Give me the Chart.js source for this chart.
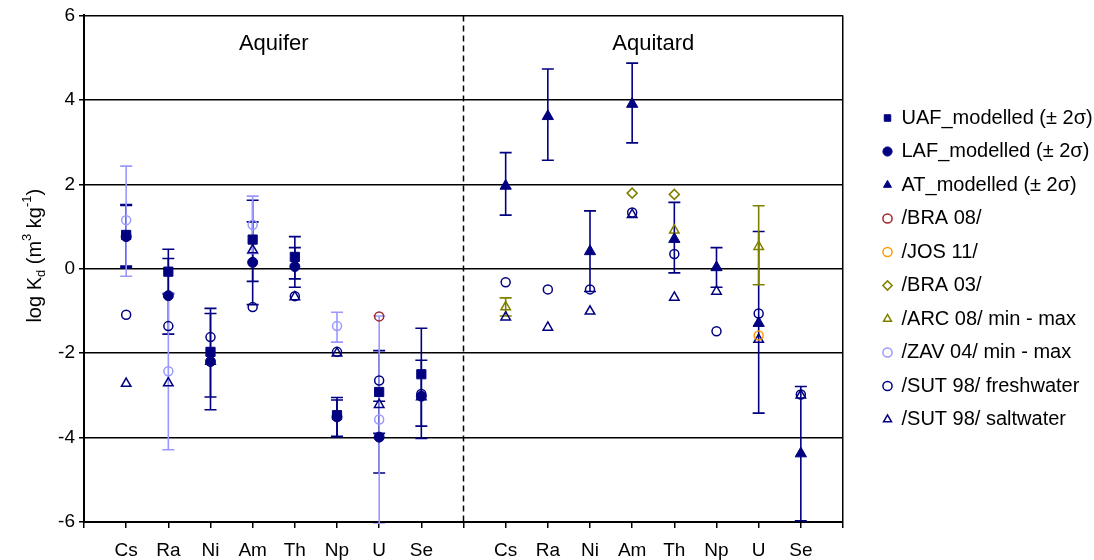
<!DOCTYPE html>
<html>
<head>
<meta charset="utf-8">
<title>log Kd</title>
<script src="https://cdn.jsdelivr.net/npm/chart.js@4.4.1/dist/chart.umd.min.js"></script>
<style>
    html, body { margin: 0; padding: 0; background: #fff; }
    #wrap { width: 1094px; height: 560px; }
</style>
</head>
<body>
<div id="wrap"><canvas id="kdChart"></canvas></div>
<script>
// Elements, shown once for the aquifer and once for the aquitard
const elements = ['Cs', 'Ra', 'Ni', 'Am', 'Th', 'Np', 'U', 'Se'];
const groups = ['Aquifer', 'Aquitard'];

// Modelled log Kd with the ±2σ limits
const uafValues = [0.80, -0.07, -1.97, 0.69, 0.28, -3.47, -2.92, -2.50];
const uafLow    = [0.06, -0.60, -3.04, -0.30, -0.24, -3.97, -3.90, -3.73];
const uafHigh   = [1.52, 0.46, -0.94, 1.62, 0.76, -3.05, -1.94, -1.41];

const lafValues = [0.76, -0.64, -2.20, 0.15, 0.05, -3.51, -3.99, -3.02];
const lafLow    = [0.02, -1.55, -3.34, -0.85, -0.44, -3.98, -4.84, -4.02];
const lafHigh   = [1.50, 0.24, -1.06, 1.11, 0.50, -3.11, -3.14, -2.17];

const atValues  = [1.96, 3.61, 0.41, 3.90, 0.70, 0.03, -1.29, -4.38];
const atLow     = [1.27, 2.57, -0.54, 2.98, -0.10, -0.44, -3.42, -5.97];
const atHigh    = [2.75, 4.73, 1.37, 4.87, 1.57, 0.50, 0.88, -2.79];

// Literature values
const bra08Aquifer  = [null, null, null, null, null, null, -1.13, null];
const jos11Aquitard = [null, null, null, null, null, null, -1.58, null];
const bra03Aquitard = [null, null, null, 1.79, 1.76, null, null, null];

const arc08Aquitard = [-0.91, null, null, null, 0.91, null, 0.52, null];
const arc08Min      = [-1.12, null, null, null, null, null, -0.38, null];
const arc08Max      = [-0.69, null, null, null, null, null, 1.49, null];

const zav04Aquifer = [1.15, -2.43, null, 1.04, null, -1.36, -3.57, null];
const zav04Min     = [-0.18, -4.29, null, 0.36, null, -1.74, -6.05, null];
const zav04Max     = [2.43, -0.57, null, 1.72, null, -1.03, -1.12, null];

const sutFreshAquifer  = [-1.09, -1.36, -1.62, -0.91, -0.65, -1.97, -2.65, -2.97];
const sutFreshAquitard = [-0.32, -0.49, -0.49, 1.33, 0.35, -1.48, -1.06, -2.98];
const sutSaltAquifer   = [-2.72, -2.71, -2.20, 0.44, -0.67, -2.00, -3.22, -3.04];
const sutSaltAquitard  = [-1.15, -1.39, -1.01, 1.28, -0.68, -0.54, -1.68, -3.00];

// x positions: aquifer 0..7, separator at 8, aquitard 9..16
const AQUIFER = 0;
const AQUITARD = 9;
const SEPARATOR = 8;

const navy = '#000080';
const olive = '#808000';
const lilac = '#9999ff';
const clear = 'rgba(0,0,0,0)';

Chart.defaults.font.family = "'Liberation Sans', Arial, sans-serif";
Chart.defaults.color = '#000';

function points(values, offset) {
    return values.map((v, i) => ({x: offset + i, y: v}));
}

function tickName(value) {
    if (value >= AQUIFER && value < AQUIFER + elements.length) return elements[value - AQUIFER];
    if (value >= AQUITARD && value < AQUITARD + elements.length) return elements[value - AQUITARD];
    return '';
}

// vertical ±2σ / min-max bars, drawn under the markers
const errorBars = {
    id: 'errorBars',
    beforeDatasetsDraw(chart) {
        const {ctx, chartArea, scales: {y}} = chart;
        ctx.save();
        ctx.beginPath();
        ctx.rect(chartArea.left, chartArea.top - 2, chartArea.width, chartArea.height + 4);
        ctx.clip();
        ctx.lineWidth = 1.6;
        chart.data.datasets.forEach((ds, i) => {
            if (!ds.errLow) return;
            const meta = chart.getDatasetMeta(i);
            ctx.strokeStyle = ds.errColor;
            meta.data.forEach((pt, j) => {
                const lo = ds.errLow[j];
                const hi = ds.errHigh[j];
                if (lo == null || hi == null) return;
                const yl = y.getPixelForValue(lo);
                const yh = y.getPixelForValue(hi);
                ctx.beginPath();
                ctx.moveTo(pt.x, yl);
                ctx.lineTo(pt.x, yh);
                ctx.moveTo(pt.x - 6, yl);
                ctx.lineTo(pt.x + 6, yl);
                ctx.moveTo(pt.x - 6, yh);
                ctx.lineTo(pt.x + 6, yh);
                ctx.stroke();
            });
        });
        ctx.restore();
    }
};

// dashed line between aquifer and aquitard, plus group names
const groupMarks = {
    id: 'groupMarks',
    afterDraw(chart) {
        const {ctx, chartArea, scales: {x, y}} = chart;
        const sx = x.getPixelForValue(SEPARATOR);
        ctx.save();
        ctx.strokeStyle = '#000';
        ctx.lineWidth = 1.5;
        ctx.setLineDash([6, 4]);
        ctx.beginPath();
        ctx.moveTo(sx, chartArea.top);
        ctx.lineTo(sx, chartArea.bottom);
        ctx.stroke();
        ctx.setLineDash([]);

        ctx.fillStyle = '#000';
        ctx.font = "22px 'Liberation Sans', Arial, sans-serif";
        ctx.textAlign = 'center';
        ctx.textBaseline = 'middle';
        const ty = y.getPixelForValue(5.32);
        ctx.fillText(groups[0], x.getPixelForValue(AQUIFER + 3.5), ty);
        ctx.fillText(groups[1], x.getPixelForValue(AQUITARD + 3.5), ty);
        ctx.restore();
    }
};

// y axis title with subscript and superscripts
const yTitle = {
    id: 'yTitle',
    afterDraw(chart) {
        const {ctx, chartArea} = chart;
        const size = 20;
        const parts = [
            ['log K', 0], ['d', -1], [' (m', 0], ['3', 1], [' kg', 0], ['-1', 1], [')', 0]
        ];
        ctx.save();
        ctx.fillStyle = '#000';
        ctx.textBaseline = 'middle';
        ctx.textAlign = 'left';
        const fontFor = s => (s === 0 ? size : Math.round(size * 0.65)) + "px 'Liberation Sans', Arial, sans-serif";
        let total = 0;
        parts.forEach(([t, s]) => { ctx.font = fontFor(s); total += ctx.measureText(t).width; });
        ctx.translate(35, (chartArea.top + chartArea.bottom) / 2 - 13);
        ctx.rotate(-Math.PI / 2);
        let cx = -total / 2;
        parts.forEach(([t, s]) => {
            ctx.font = fontFor(s);
            const dy = s === 0 ? 0 : (s > 0 ? -size * 0.38 : size * 0.3);
            ctx.fillText(t, cx, dy);
            cx += ctx.measureText(t).width;
        });
        ctx.restore();
    }
};

// fixed legend column to the right of the plot
const legendPlacement = {
    id: 'legendPlacement',
    beforeInit(chart) {
        const fit = chart.legend.fit;
        chart.legend.fit = function () {
            fit.call(this);
            this.width = 251;
        };
    },
    afterLayout(chart) {
        const lg = chart.legend;
        lg.left = chart.chartArea.right + 27;
        lg.right = lg.left + 251;
        lg.top = 94.5;
    }
};

const ctx = document.getElementById('kdChart');

new Chart(ctx, {
    type: 'scatter',
    data: {
        datasets: [{
            label: 'UAF_modelled (± 2σ)',
            data: points(uafValues, AQUIFER),
            pointStyle: 'rect',
            pointRadius: 6.5,
            backgroundColor: navy,
            borderColor: navy,
            pointBorderWidth: 1,
            errLow: uafLow,
            errHigh: uafHigh,
            errColor: navy
        }, {
            label: 'LAF_modelled (± 2σ)',
            data: points(lafValues, AQUIFER),
            pointStyle: 'circle',
            pointRadius: 5,
            backgroundColor: navy,
            borderColor: navy,
            pointBorderWidth: 1,
            errLow: lafLow,
            errHigh: lafHigh,
            errColor: navy
        }, {
            label: 'AT_modelled (± 2σ)',
            data: points(atValues, AQUITARD),
            pointStyle: 'triangle',
            pointRadius: 6.5,
            backgroundColor: navy,
            borderColor: navy,
            pointBorderWidth: 1,
            errLow: atLow,
            errHigh: atHigh,
            errColor: navy
        }, {
            label: '/BRA 08/',
            data: points(bra08Aquifer, AQUIFER),
            pointStyle: 'circle',
            pointRadius: 4.5,
            backgroundColor: clear,
            borderColor: '#a0282d',
            pointBorderWidth: 1.5
        }, {
            label: '/JOS 11/',
            data: points(jos11Aquitard, AQUITARD),
            pointStyle: 'circle',
            pointRadius: 4.5,
            backgroundColor: clear,
            borderColor: '#ff9900',
            pointBorderWidth: 1.5
        }, {
            label: '/BRA 03/',
            data: points(bra03Aquitard, AQUITARD),
            pointStyle: 'rectRot',
            pointRadius: 5,
            backgroundColor: clear,
            borderColor: olive,
            pointBorderWidth: 1.5
        }, {
            label: '/ARC 08/ min - max',
            data: points(arc08Aquitard, AQUITARD),
            pointStyle: 'triangle',
            pointRadius: 5.5,
            backgroundColor: clear,
            borderColor: olive,
            pointBorderWidth: 1.5,
            errLow: arc08Min,
            errHigh: arc08Max,
            errColor: olive
        }, {
            label: '/ZAV 04/ min - max',
            data: points(zav04Aquifer, AQUIFER),
            pointStyle: 'circle',
            pointRadius: 4.5,
            backgroundColor: clear,
            borderColor: lilac,
            pointBorderWidth: 1.5,
            errLow: zav04Min,
            errHigh: zav04Max,
            errColor: lilac
        }, {
            label: '/SUT 98/ freshwater',
            data: points(sutFreshAquifer, AQUIFER).concat(points(sutFreshAquitard, AQUITARD)),
            pointStyle: 'circle',
            pointRadius: 4.5,
            backgroundColor: clear,
            borderColor: navy,
            pointBorderWidth: 1.5
        }, {
            label: '/SUT 98/ saltwater',
            data: points(sutSaltAquifer, AQUIFER).concat(points(sutSaltAquitard, AQUITARD)),
            pointStyle: 'triangle',
            pointRadius: 5.5,
            backgroundColor: clear,
            borderColor: navy,
            pointBorderWidth: 1.5
        }]
    },
    plugins: [errorBars, groupMarks, yTitle, legendPlacement],
    options: {
        responsive: true,
        maintainAspectRatio: false,
        animation: false,
        events: [],
        layout: {
            padding: {top: 14, left: 0, right: 0, bottom: 0}
        },
        scales: {
            x: {
                type: 'linear',
                min: -1,
                max: 17,
                afterFit: function (scale) { scale.height = 38; },
                ticks: {
                    stepSize: 1,
                    maxTicksLimit: 40,
                    autoSkip: false,
                    maxRotation: 0,
                    padding: 11,
                    color: '#000',
                    font: {size: 19},
                    callback: function (value) { return tickName(value); }
                },
                grid: {
                    color: function (c) { return c.tick && c.tick.value === 17 ? '#000' : clear; },
                    tickColor: '#000',
                    tickLength: 6,
                    lineWidth: 1.5
                },
                border: {color: '#000', width: 2}
            },
            y: {
                min: -6,
                max: 6,
                afterFit: function (scale) { scale.width = 84; },
                ticks: {
                    stepSize: 2,
                    padding: 4,
                    color: '#000',
                    font: {size: 19}
                },
                grid: {
                    color: '#000',
                    lineWidth: 1.5,
                    tickLength: 5
                },
                border: {color: '#000', width: 2}
            }
        },
        plugins: {
            legend: {
                display: true,
                position: 'right',
                align: 'start',
                labels: {
                    usePointStyle: true,
                    boxWidth: 8,
                    boxHeight: 6.5,
                    padding: 13.5,
                    color: '#000',
                    font: {size: 20}
                }
            },
            tooltip: {enabled: false}
        }
    }
});
</script>
</body>
</html>
